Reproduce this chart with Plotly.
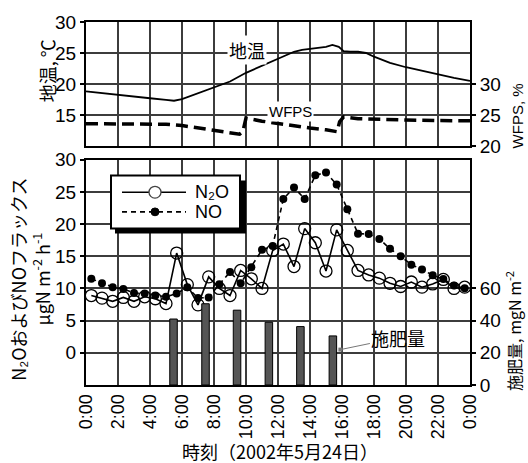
import plotly.graph_objects as go

# ---------------- data ----------------
tick_hours = [0, 2, 4, 6, 8, 10, 12, 14, 16, 18, 20, 22, 24]
tick_labels = ["0:00", "2:00", "4:00", "6:00", "8:00", "10:00", "12:00",
               "14:00", "16:00", "18:00", "20:00", "22:00", "0:00"]

flux_times = ["0:20", "1:00", "1:40", "2:20", "3:00", "3:40", "4:20", "5:00", "5:40",
              "6:20", "7:00", "7:40", "8:20", "9:00", "9:40", "10:20", "11:00", "11:40",
              "12:20", "13:00", "13:40", "14:20", "15:00", "15:40", "16:20", "17:00",
              "17:40", "18:20", "19:00", "19:40", "20:20", "21:00", "21:40", "22:20",
              "23:00", "23:40"]
n2o = [8.9, 8.5, 8.0, 8.6, 8.0, 8.7, 8.4, 7.65, 15.5, 10.6, 7.45, 11.8, 10.0, 8.9,
       12.8, 11.5, 10.0, 15.9, 16.9, 13.4, 19.3, 17.1, 12.7, 19.1, 15.9, 12.8, 12.1,
       11.6, 10.8, 10.3, 11.0, 10.2, 10.7, 11.4, 10.0, 10.2]
no = [11.5, 10.8, 10.2, 9.9, 9.3, 9.2, 8.9, 8.7, 9.2, 10.2, 8.5, 8.6, 10.65, 12.55,
      10.8, 13.3, 16.0, 16.6, 23.9, 25.7, 23.9, 27.6, 28.0, 26.15, 22.3, 18.5, 18.45,
      17.7, 16.15, 15.0, 13.7, 12.95, 12.05, 11.45, 10.45, 10.05]

fert_hours = [5.47, 7.47, 9.44, 11.43, 13.4, 15.43]
fert_amount = [41, 50.5, 46.5, 39, 36.3, 30.5]

temp_hours = [0, 1, 2, 3, 4, 5, 5.5, 6, 7, 8, 9, 10, 11, 12, 12.5, 13, 13.5, 14,
              14.5, 15, 15.4, 15.8, 16.1, 16.5, 17, 17.5, 18, 19, 20, 21, 22, 23, 24]
soil_temp = [18.8, 18.5, 18.2, 17.95, 17.7, 17.45, 17.3, 17.55, 18.5, 19.5, 20.4,
             21.8, 22.9, 24.0, 24.6, 25.2, 25.5, 25.7, 25.8, 26.0, 26.3, 26.0, 25.3,
             25.2, 25.2, 25.0, 24.4, 23.4, 22.7, 22.1, 21.6, 21.0, 20.5]

wfps_hours = [0, 2, 4, 5, 6, 7, 8, 9, 9.6, 9.8, 10, 11, 12, 13, 14, 15, 15.7, 15.85,
              16.1, 17, 18, 20, 22, 24]
wfps = [23.6, 23.6, 23.55, 23.5, 23.3, 22.9, 22.5, 22.1, 21.9, 22.3, 24.5, 24.0,
        23.6, 23.2, 22.9, 22.6, 22.3, 23.9, 24.7, 24.4, 24.3, 24.2, 24.1, 24.05]

legend_names = ["N₂O", "NO"]


def to_hours(s):
    h, m = s.split(":")
    return int(h) + int(m) / 60.0


flux_hours = [to_hours(s) for s in flux_times]

# ---------------- styling ----------------
NUM_FONT = "Liberation Sans, Arial, sans-serif"
JP_FONT = "Noto Sans CJK JP, sans-serif"
GRID = "#3c3c3c"
TICKFONT = dict(family=NUM_FONT, size=19, color="black")
XTICKFONT = dict(family=NUM_FONT, size=18, color="black")

N2O_LINE = dict(color="black", width=1.6)
NO_LINE = dict(color="black", width=1.6, dash="5px,4px")
N2O_EDGE = "#444"

fig = go.Figure()

fig.add_trace(go.Bar(x=fert_hours, y=fert_amount, xaxis="x", yaxis="y2", width=0.47,
                     marker=dict(color="#555555", line=dict(color="black", width=1)),
                     showlegend=False))
fig.add_trace(go.Scatter(x=flux_hours, y=n2o, xaxis="x", yaxis="y", mode="lines+markers",
                         name="N2O", line=N2O_LINE, showlegend=False,
                         marker=dict(symbol="circle-open", size=12,
                                     line=dict(color=N2O_EDGE, width=1.3))))
fig.add_trace(go.Scatter(x=flux_hours, y=no, xaxis="x", yaxis="y", mode="lines+markers",
                         name="NO", line=NO_LINE, showlegend=False,
                         marker=dict(symbol="circle", size=8, color="black")))
fig.add_trace(go.Scatter(x=temp_hours, y=soil_temp, xaxis="x2", yaxis="y3", mode="lines",
                         line=dict(color="black", width=1.8), showlegend=False))
fig.add_trace(go.Scatter(x=wfps_hours, y=wfps, xaxis="x2", yaxis="y4", mode="lines",
                         line=dict(color="black", width=3.5, dash="12px,6px"),
                         showlegend=False))

common_x = dict(range=[0, 24], tickvals=tick_hours, showgrid=True, gridcolor=GRID,
                gridwidth=1.5, showline=True, linecolor="black", linewidth=2,
                mirror=True, zeroline=False, ticks="")
common_y = dict(showgrid=True, gridcolor=GRID, gridwidth=1.5, showline=True,
                linecolor="black", linewidth=2, mirror=True, zeroline=False,
                ticks="outside", ticklen=4, tickcolor="black", tickwidth=1.5,
                tickfont=TICKFONT)

TOP_D = [0.6585, 1.0]
BOT_D = [0.0, 0.6206]

fig.update_layout(
    width=528, height=463,
    margin=dict(l=86, r=58, t=16, b=78),
    paper_bgcolor="white", plot_bgcolor="white",
    showlegend=False,
    xaxis=dict(**common_x, anchor="y", ticktext=tick_labels, tickangle=-90,
               tickfont=XTICKFONT),
    xaxis2=dict(**common_x, anchor="y3", matches="x", showticklabels=False),
    yaxis=dict(**common_y, domain=BOT_D, range=[-5, 30],
               tickvals=[0, 5, 10, 15, 20, 25, 30]),
    yaxis2=dict(domain=BOT_D, overlaying="y", side="right", anchor="x", range=[0, 140],
                tickvals=[0, 20, 40, 60], showgrid=False, zeroline=False,
                ticks="outside", ticklen=5, tickcolor="black", tickwidth=1.5,
                tickfont=TICKFONT),
    yaxis3=dict(**common_y, domain=TOP_D, anchor="x2", range=[10, 30],
                tickvals=[15, 20, 25, 30]),
    yaxis4=dict(domain=TOP_D, overlaying="y3", side="right", anchor="x2", range=[20, 40],
                tickvals=[20, 25, 30], showgrid=False, zeroline=False,
                ticks="outside", ticklen=5, tickcolor="black", tickwidth=1.5,
                tickfont=TICKFONT),
)

W_PLOT = 528 - 86 - 58
H_PLOT = 463 - 16 - 78


def px_to_paper(xp, yp):
    return (xp - 86) / W_PLOT, (463 - 78 - yp) / H_PLOT


def prect(x0, y0, x1, y1, **kw):
    a, b = px_to_paper(x0, y1)
    c, d = px_to_paper(x1, y0)
    return dict(type="rect", xref="paper", yref="paper", x0=a, y0=b, x1=c, y1=d,
                layer="above", **kw)


def pline(x0, y0, x1, y1, line):
    a, b = px_to_paper(x0, y0)
    c, d = px_to_paper(x1, y1)
    return dict(type="line", xref="paper", yref="paper", x0=a, y0=b, x1=c, y1=d,
                layer="above", line=line)


def pcircle(cx, cy, r, **kw):
    a, b = px_to_paper(cx - r, cy + r)
    c, d = px_to_paper(cx + r, cy - r)
    return dict(type="circle", xref="paper", yref="paper", x0=a, y0=b, x1=c, y1=d,
                layer="above", **kw)


# ----- legend box (drawn by hand to match the boxed, shadowed original) -----
shapes = [
    prect(115, 177, 246, 231, fillcolor="black", line=dict(width=0)),
    prect(111, 172, 240, 226, fillcolor="white", line=dict(color="black", width=2)),
    pline(122, 189, 186, 189, N2O_LINE),
    pcircle(155, 189, 6, fillcolor="white", line=dict(color=N2O_EDGE, width=1.3)),
    pline(122, 209, 186, 209, NO_LINE),
    pcircle(155, 209, 4, fillcolor="black", line=dict(color="black", width=1)),
]
fig.update_layout(shapes=shapes)

annotations = [
    dict(text="地温", x=10.05, y=25.5, xref="x2", yref="y3", showarrow=False,
         bgcolor="white", font=dict(family=JP_FONT, size=18, color="black")),
    dict(text="WFPS", x=12.75, y=25.5, xref="x2", yref="y4", showarrow=False,
         bgcolor="white", font=dict(family=NUM_FONT, size=15, color="black")),
    dict(text="施肥量", x=15.9, y=22, xref="x", yref="y2", showarrow=True,
         arrowhead=7, arrowsize=1, arrowwidth=1, arrowcolor="#777",
         ax=58, ay=-12, font=dict(family=JP_FONT, size=18, color="black")),
]


def title(text, xp, yp, size, family, angle, xanchor="center", height=None):
    x_, y_ = px_to_paper(xp, yp)
    d = dict(text=text, x=x_, y=y_, xref="paper", yref="paper",
             xanchor=xanchor, yanchor="middle", textangle=angle,
             showarrow=False, font=dict(family=family, size=size, color="black"))
    if height is not None:
        d["height"] = height
    return d


annotations.append(title(legend_names[0], 193, 188, 18, NUM_FONT, 0, "left", 19))
annotations.append(title(legend_names[1], 193, 209, 18, NUM_FONT, 0, "left", 19))
annotations.append(title("地温, ℃", 47, 66, 18, JP_FONT, -90))
annotations.append(title("WFPS, %", 517, 112, 15, NUM_FONT, -90))
annotations.append(title("施肥量, mgN m<sup>-2</sup>", 514, 330, 16, JP_FONT, -90))
annotations.append(title("N₂OおよびNOフラックス<br>μgN m<sup>-2</sup> h<sup>-1</sup>",
                         30, 278, 18, JP_FONT, -90))
annotations.append(title("時刻（2002年5月24日）", 280, 452, 18, JP_FONT, 0))

fig.update_layout(annotations=annotations)

fig.write_html("out.html")
